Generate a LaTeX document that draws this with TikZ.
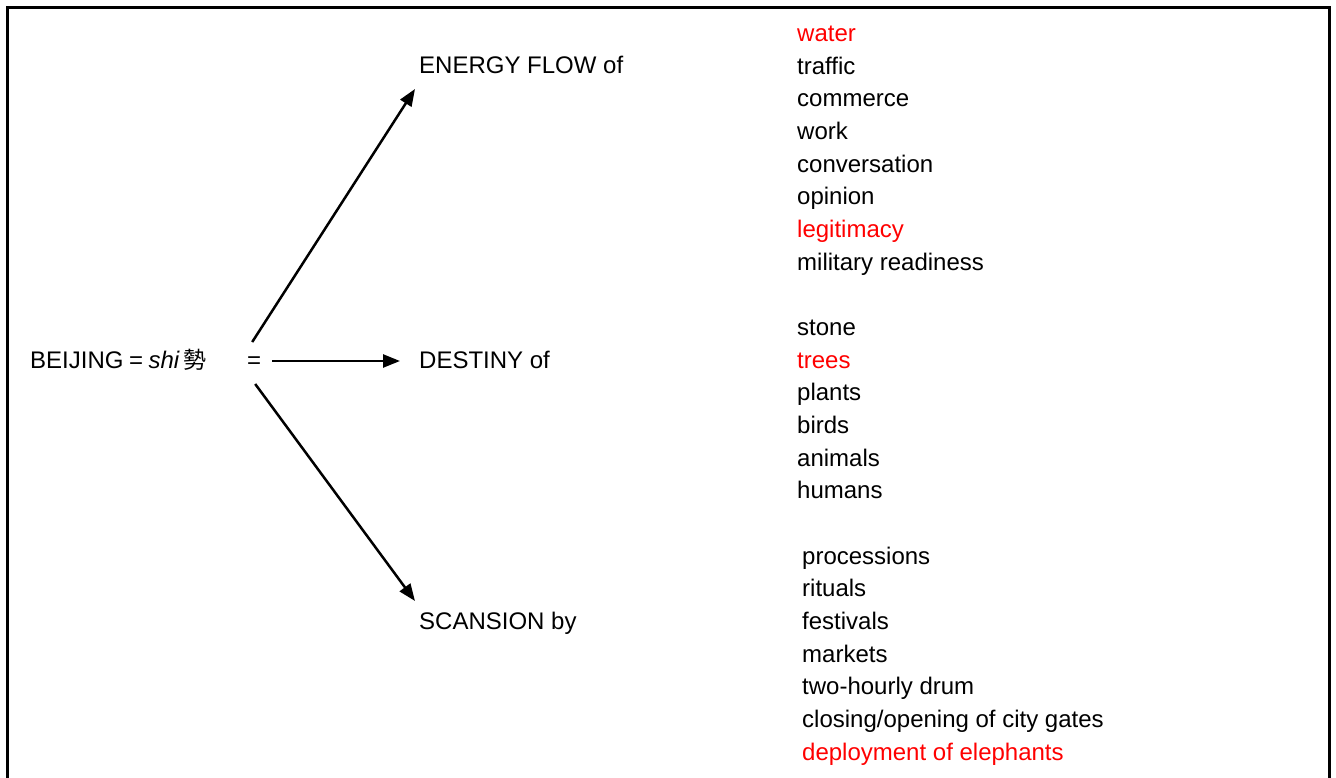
\documentclass[tikz,border=0pt]{standalone}
\usepackage{fontspec}
\setmainfont{Liberation Sans}
\newfontfamily\cjk{Noto Sans CJK TC}
\usetikzlibrary{arrows.meta}
\definecolor{hl}{RGB}{255,0,0}
\tikzset{
  lbl/.style={anchor=base west, inner sep=0pt, font=\fontsize{24}{24}\selectfont},
  red/.style={text=hl},
  arr/.style={line width=2.5pt, -{Triangle[length=17pt,width=13pt]}},
  frame/.style={line width=3pt}
}
\begin{document}
\begin{tikzpicture}[x=1pt,y=-1pt]
\useasboundingbox (0,0) rectangle (1336,778);
\draw[frame] (7,778) -- (7,8) -- (1329,8) -- (1329,778);
% left
\node[lbl] (beijing) at (30,368) {BEIJING\hspace{5.5pt}=\hspace{5.5pt}\textit{shi}\hspace{4pt}{\cjk\fontsize{23}{23}\selectfont 勢}};
\node[lbl] (eq) at (247,368) {=};
% middle
\node[lbl] (energy) at (419,74) {ENERGY FLOW of};
\node[lbl] (destiny) at (419,368) {DESTINY of};
\node[lbl] (scansion) at (419,629) {SCANSION by};
% arrows
\draw[arr] ([shift={(-2,-26)}]eq.base) -- ([shift={(-4,15)}]energy.base west);
\draw[arr] ([shift={(18,-7)}]eq.base) -- ([shift={(-19,-7)}]destiny.base west);
\draw[arr] ([shift={(1,16)}]eq.base) -- ([shift={(-4,-28)}]scansion.base west);
% lists
\node[lbl,red] (l0) at (797,41.7) {water};
\node[lbl] (l1) at (797,74.35) {traffic};
\node[lbl] (l2) at (797,107.0) {commerce};
\node[lbl] (l3) at (797,139.65) {work};
\node[lbl] (l4) at (797,172.3) {conversation};
\node[lbl] (l5) at (797,204.95) {opinion};
\node[lbl,red] (l6) at (797,237.6) {legitimacy};
\node[lbl] (l7) at (797,270.25) {military readiness};
\node[lbl] (m0) at (797,335.55) {stone};
\node[lbl,red] (m1) at (797,368.2) {trees};
\node[lbl] (m2) at (797,400.85) {plants};
\node[lbl] (m3) at (797,433.5) {birds};
\node[lbl] (m4) at (797,466.15) {animals};
\node[lbl] (m5) at (797,498.8) {humans};
\node[lbl] (n0) at (802,564.1) {processions};
\node[lbl] (n1) at (802,596.75) {rituals};
\node[lbl] (n2) at (802,629.4) {festivals};
\node[lbl] (n3) at (802,662.05) {markets};
\node[lbl] (n4) at (802,694.7) {two-hourly drum};
\node[lbl] (n5) at (802,727.35) {closing/opening of city gates};
\node[lbl,red] (n6) at (802,760.0) {deployment of elephants};
\end{tikzpicture}
\end{document}
